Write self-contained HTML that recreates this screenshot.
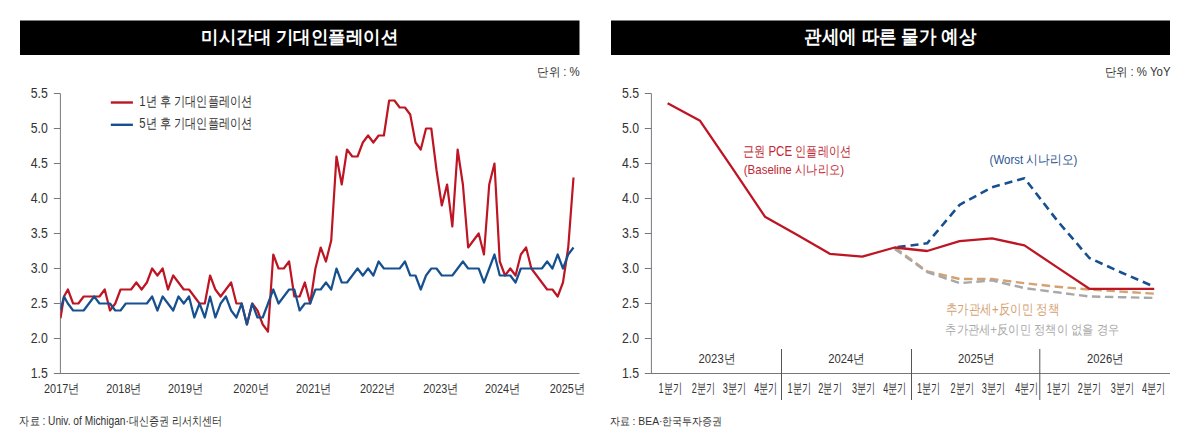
<!DOCTYPE html>
<html><head><meta charset="utf-8"><style>
html,body{margin:0;padding:0;background:#fff;width:1200px;height:443px;overflow:hidden}
svg{display:block}
text{font-family:'Liberation Sans',sans-serif}
</style></head><body>
<svg width="1200" height="443" viewBox="0 0 1200 443">
<rect x="0" y="0" width="1200" height="443" fill="#fff"/>

<rect x="20" y="20.5" width="559.5" height="34.5" fill="#000"/>
<rect x="611" y="20.5" width="559" height="34.5" fill="#000"/>
<text x="201.44" y="43.46" textLength="196.52" lengthAdjust="spacingAndGlyphs" font-size="18.20" font-weight="bold" fill="#fff">미시간대 기대인플레이션</text>
<text x="804.44" y="43.44" textLength="171.52" lengthAdjust="spacingAndGlyphs" font-size="18.95" font-weight="bold" fill="#fff">관세에 따른 물가 예상</text>
<text x="537.20" y="75.94" textLength="42.60" lengthAdjust="spacingAndGlyphs" font-size="12.00" font-weight="normal" fill="#333333">단위 : %</text>
<text x="1104.52" y="76.40" textLength="66.02" lengthAdjust="spacingAndGlyphs" font-size="12.03" font-weight="normal" fill="#333333">단위 : % YoY</text>
<line x1="60.4" y1="93.5" x2="60.4" y2="373.5" stroke="#77777f" stroke-width="1"/>
<line x1="53.8" y1="93.5" x2="60.4" y2="93.5" stroke="#77777f" stroke-width="1"/>
<text x="30.70" y="98.06" textLength="17.10" lengthAdjust="spacingAndGlyphs" font-size="13.91" font-weight="normal" fill="#333333">5.5</text>
<line x1="53.8" y1="128.5" x2="60.4" y2="128.5" stroke="#77777f" stroke-width="1"/>
<text x="30.70" y="133.06" textLength="17.10" lengthAdjust="spacingAndGlyphs" font-size="13.91" font-weight="normal" fill="#333333">5.0</text>
<line x1="53.8" y1="163.5" x2="60.4" y2="163.5" stroke="#77777f" stroke-width="1"/>
<text x="30.70" y="168.06" textLength="17.10" lengthAdjust="spacingAndGlyphs" font-size="13.91" font-weight="normal" fill="#333333">4.5</text>
<line x1="53.8" y1="198.5" x2="60.4" y2="198.5" stroke="#77777f" stroke-width="1"/>
<text x="30.70" y="203.06" textLength="17.10" lengthAdjust="spacingAndGlyphs" font-size="13.91" font-weight="normal" fill="#333333">4.0</text>
<line x1="53.8" y1="233.5" x2="60.4" y2="233.5" stroke="#77777f" stroke-width="1"/>
<text x="30.70" y="238.06" textLength="17.10" lengthAdjust="spacingAndGlyphs" font-size="13.91" font-weight="normal" fill="#333333">3.5</text>
<line x1="53.8" y1="268.5" x2="60.4" y2="268.5" stroke="#77777f" stroke-width="1"/>
<text x="30.70" y="273.06" textLength="17.10" lengthAdjust="spacingAndGlyphs" font-size="13.91" font-weight="normal" fill="#333333">3.0</text>
<line x1="53.8" y1="303.5" x2="60.4" y2="303.5" stroke="#77777f" stroke-width="1"/>
<text x="30.70" y="308.06" textLength="17.10" lengthAdjust="spacingAndGlyphs" font-size="13.91" font-weight="normal" fill="#333333">2.5</text>
<line x1="53.8" y1="338.5" x2="60.4" y2="338.5" stroke="#77777f" stroke-width="1"/>
<text x="30.70" y="343.06" textLength="17.10" lengthAdjust="spacingAndGlyphs" font-size="13.91" font-weight="normal" fill="#333333">2.0</text>
<text x="30.70" y="378.06" textLength="17.10" lengthAdjust="spacingAndGlyphs" font-size="13.91" font-weight="normal" fill="#333333">1.5</text>
<line x1="53.8" y1="373.5" x2="579.5" y2="373.5" stroke="#77777f" stroke-width="1"/>
<line x1="651.4" y1="93.5" x2="651.4" y2="373.5" stroke="#77777f" stroke-width="1"/>
<line x1="644.8" y1="93.5" x2="651.4" y2="93.5" stroke="#77777f" stroke-width="1"/>
<text x="621.90" y="98.06" textLength="17.10" lengthAdjust="spacingAndGlyphs" font-size="13.91" font-weight="normal" fill="#333333">5.5</text>
<line x1="644.8" y1="128.5" x2="651.4" y2="128.5" stroke="#77777f" stroke-width="1"/>
<text x="621.90" y="133.06" textLength="17.10" lengthAdjust="spacingAndGlyphs" font-size="13.91" font-weight="normal" fill="#333333">5.0</text>
<line x1="644.8" y1="163.5" x2="651.4" y2="163.5" stroke="#77777f" stroke-width="1"/>
<text x="621.90" y="168.06" textLength="17.10" lengthAdjust="spacingAndGlyphs" font-size="13.91" font-weight="normal" fill="#333333">4.5</text>
<line x1="644.8" y1="198.5" x2="651.4" y2="198.5" stroke="#77777f" stroke-width="1"/>
<text x="621.90" y="203.06" textLength="17.10" lengthAdjust="spacingAndGlyphs" font-size="13.91" font-weight="normal" fill="#333333">4.0</text>
<line x1="644.8" y1="233.5" x2="651.4" y2="233.5" stroke="#77777f" stroke-width="1"/>
<text x="621.90" y="238.06" textLength="17.10" lengthAdjust="spacingAndGlyphs" font-size="13.91" font-weight="normal" fill="#333333">3.5</text>
<line x1="644.8" y1="268.5" x2="651.4" y2="268.5" stroke="#77777f" stroke-width="1"/>
<text x="621.90" y="273.06" textLength="17.10" lengthAdjust="spacingAndGlyphs" font-size="13.91" font-weight="normal" fill="#333333">3.0</text>
<line x1="644.8" y1="303.5" x2="651.4" y2="303.5" stroke="#77777f" stroke-width="1"/>
<text x="621.90" y="308.06" textLength="17.10" lengthAdjust="spacingAndGlyphs" font-size="13.91" font-weight="normal" fill="#333333">2.5</text>
<line x1="644.8" y1="338.5" x2="651.4" y2="338.5" stroke="#77777f" stroke-width="1"/>
<text x="621.90" y="343.06" textLength="17.10" lengthAdjust="spacingAndGlyphs" font-size="13.91" font-weight="normal" fill="#333333">2.0</text>
<text x="621.90" y="378.06" textLength="17.10" lengthAdjust="spacingAndGlyphs" font-size="13.91" font-weight="normal" fill="#333333">1.5</text>
<line x1="644.8" y1="373.5" x2="1170" y2="373.5" stroke="#77777f" stroke-width="1"/>
<text x="44.04" y="393.38" textLength="35.40" lengthAdjust="spacingAndGlyphs" font-size="12.65" font-weight="normal" fill="#333333">2017년</text>
<text x="106.24" y="393.38" textLength="35.40" lengthAdjust="spacingAndGlyphs" font-size="12.65" font-weight="normal" fill="#333333">2018년</text>
<text x="167.94" y="393.38" textLength="35.40" lengthAdjust="spacingAndGlyphs" font-size="12.65" font-weight="normal" fill="#333333">2019년</text>
<text x="233.34" y="393.38" textLength="35.40" lengthAdjust="spacingAndGlyphs" font-size="12.65" font-weight="normal" fill="#333333">2020년</text>
<text x="296.04" y="393.38" textLength="35.40" lengthAdjust="spacingAndGlyphs" font-size="12.65" font-weight="normal" fill="#333333">2021년</text>
<text x="359.94" y="393.38" textLength="35.40" lengthAdjust="spacingAndGlyphs" font-size="12.65" font-weight="normal" fill="#333333">2022년</text>
<text x="423.14" y="393.38" textLength="35.40" lengthAdjust="spacingAndGlyphs" font-size="12.65" font-weight="normal" fill="#333333">2023년</text>
<text x="484.94" y="393.38" textLength="35.40" lengthAdjust="spacingAndGlyphs" font-size="12.65" font-weight="normal" fill="#333333">2024년</text>
<text x="549.64" y="393.38" textLength="35.40" lengthAdjust="spacingAndGlyphs" font-size="12.65" font-weight="normal" fill="#333333">2025년</text>
<line x1="110.8" y1="102.5" x2="132.9" y2="102.5" stroke="#bd1523" stroke-width="2.4"/>
<line x1="110.8" y1="124.8" x2="132.9" y2="124.8" stroke="#17508f" stroke-width="2.4"/>
<text x="139.28" y="105.98" textLength="113.06" lengthAdjust="spacingAndGlyphs" font-size="14.14" font-weight="normal" fill="#333333">1년 후 기대인플레이션</text>
<text x="139.28" y="128.38" textLength="113.06" lengthAdjust="spacingAndGlyphs" font-size="14.14" font-weight="normal" fill="#333333">5년 후 기대인플레이션</text>
<defs><clipPath id="cl"><rect x="60.4" y="80" width="530" height="300"/></clipPath></defs>
<g clip-path="url(#cl)" fill="none" stroke-linejoin="round">
<polyline points="60.50,318.20 64.00,296.50 67.87,289.50 73.13,303.50 78.40,303.50 83.67,296.50 88.94,296.50 94.20,296.50 99.47,296.50 104.74,289.50 110.00,310.50 115.27,303.50 120.54,289.50 125.80,289.50 131.07,289.50 136.34,282.50 141.61,289.50 146.87,282.50 152.14,268.50 157.41,275.50 162.67,268.50 167.94,289.50 173.21,275.50 178.47,282.50 183.74,289.50 189.01,289.50 194.28,296.50 199.54,303.50 204.81,303.50 210.08,275.50 215.34,289.50 220.61,296.50 225.88,289.50 231.14,282.50 236.41,303.50 241.68,303.50 246.94,324.50 252.21,303.50 257.48,310.50 262.75,324.50 268.01,331.50 273.28,254.50 278.55,268.50 283.81,268.50 289.08,261.50 294.35,296.50 299.62,296.50 304.88,282.50 310.15,303.50 315.42,268.50 320.68,247.50 325.95,261.50 331.22,240.50 336.48,156.50 341.75,184.50 347.02,149.50 352.29,156.50 357.55,156.50 362.82,142.50 368.09,135.50 373.35,142.50 378.62,135.50 383.89,135.50 389.15,100.50 394.42,100.50 399.69,107.50 404.96,107.50 410.22,114.50 415.49,142.50 420.76,149.50 426.02,128.50 431.29,128.50 436.56,170.50 441.82,205.50 447.09,184.50 452.36,226.50 457.63,149.50 462.89,184.50 468.16,247.50 473.43,240.50 478.69,233.50 483.96,254.50 489.23,184.50 494.49,163.50 499.76,261.50 505.03,275.50 510.30,268.50 515.56,275.50 520.83,254.50 526.10,247.50 531.36,268.50 536.63,275.50 541.90,282.50 547.16,289.50 552.43,289.50 557.70,296.50 562.97,282.50 568.23,247.50 573.50,177.50" stroke="#bd1523" stroke-width="2.2"/>
<polyline points="60.50,309.80 64.00,296.50 67.87,303.50 73.13,310.50 78.40,310.50 83.67,310.50 88.94,303.50 94.20,296.50 99.47,303.50 104.74,303.50 110.00,303.50 115.27,310.50 120.54,310.50 125.80,303.50 131.07,303.50 136.34,303.50 141.61,303.50 146.87,303.50 152.14,296.50 157.41,310.50 162.67,296.50 167.94,303.50 173.21,310.50 178.47,296.50 183.74,303.50 189.01,296.50 194.28,317.50 199.54,303.50 204.81,317.50 210.08,296.50 215.34,317.50 220.61,303.50 225.88,296.50 231.14,310.50 236.41,317.50 241.68,303.50 246.94,324.50 252.21,303.50 257.48,317.50 262.75,317.50 268.01,303.50 273.28,289.50 278.55,303.50 283.81,296.50 289.08,289.50 294.35,289.50 299.62,310.50 304.88,303.50 310.15,303.50 315.42,289.50 320.68,289.50 325.95,282.50 331.22,289.50 336.48,268.50 341.75,282.50 347.02,282.50 352.29,275.50 357.55,268.50 362.82,275.50 368.09,268.50 373.35,275.50 378.62,261.50 383.89,268.50 389.15,268.50 394.42,268.50 399.69,268.50 404.96,261.50 410.22,275.50 415.49,275.50 420.76,289.50 426.02,275.50 431.29,268.50 436.56,268.50 441.82,275.50 447.09,275.50 452.36,275.50 457.63,268.50 462.89,261.50 468.16,268.50 473.43,268.50 478.69,268.50 483.96,282.50 489.23,268.50 494.49,254.50 499.76,275.50 505.03,275.50 510.30,275.50 515.56,282.50 520.83,268.50 526.10,268.50 531.36,268.50 536.63,268.50 541.90,268.50 547.16,261.50 552.43,268.50 557.70,254.50 562.97,268.50 568.23,254.50 573.50,247.50" stroke="#17508f" stroke-width="2.2"/>
</g>
<text x="19.46" y="425.18" textLength="202.78" lengthAdjust="spacingAndGlyphs" font-size="12.17" font-weight="normal" fill="#333333">자료 : Univ. of Michigan·대신증권 리서치센터</text>
<text x="609.74" y="425.04" textLength="112.74" lengthAdjust="spacingAndGlyphs" font-size="11.38" font-weight="normal" fill="#333333">자료 : BEA·한국투자증권</text>
<line x1="781.5" y1="349" x2="781.5" y2="400" stroke="#555" stroke-width="1"/>
<line x1="911.5" y1="349" x2="911.5" y2="400" stroke="#555" stroke-width="1"/>
<line x1="1039.8" y1="349" x2="1039.8" y2="400" stroke="#555" stroke-width="1"/>
<text x="698.62" y="362.50" textLength="36.60" lengthAdjust="spacingAndGlyphs" font-size="12.65" font-weight="normal" fill="#333333">2023년</text>
<text x="828.22" y="362.50" textLength="36.60" lengthAdjust="spacingAndGlyphs" font-size="12.65" font-weight="normal" fill="#333333">2024년</text>
<text x="957.92" y="362.50" textLength="36.60" lengthAdjust="spacingAndGlyphs" font-size="12.65" font-weight="normal" fill="#333333">2025년</text>
<text x="1087.12" y="362.50" textLength="36.60" lengthAdjust="spacingAndGlyphs" font-size="12.65" font-weight="normal" fill="#333333">2026년</text>
<text x="658.54" y="393.46" textLength="23.32" lengthAdjust="spacingAndGlyphs" font-size="13.88" font-weight="normal" fill="#333333">1분기</text>
<text x="691.64" y="393.46" textLength="23.32" lengthAdjust="spacingAndGlyphs" font-size="13.88" font-weight="normal" fill="#333333">2분기</text>
<text x="722.84" y="393.46" textLength="23.32" lengthAdjust="spacingAndGlyphs" font-size="13.88" font-weight="normal" fill="#333333">3분기</text>
<text x="754.14" y="393.46" textLength="23.32" lengthAdjust="spacingAndGlyphs" font-size="13.88" font-weight="normal" fill="#333333">4분기</text>
<text x="787.54" y="393.46" textLength="23.32" lengthAdjust="spacingAndGlyphs" font-size="13.88" font-weight="normal" fill="#333333">1분기</text>
<text x="818.34" y="393.46" textLength="23.32" lengthAdjust="spacingAndGlyphs" font-size="13.88" font-weight="normal" fill="#333333">2분기</text>
<text x="851.94" y="393.46" textLength="23.32" lengthAdjust="spacingAndGlyphs" font-size="13.88" font-weight="normal" fill="#333333">3분기</text>
<text x="883.24" y="393.46" textLength="23.32" lengthAdjust="spacingAndGlyphs" font-size="13.88" font-weight="normal" fill="#333333">4분기</text>
<text x="916.94" y="393.46" textLength="23.32" lengthAdjust="spacingAndGlyphs" font-size="13.88" font-weight="normal" fill="#333333">1분기</text>
<text x="950.54" y="393.46" textLength="23.32" lengthAdjust="spacingAndGlyphs" font-size="13.88" font-weight="normal" fill="#333333">2분기</text>
<text x="981.64" y="393.46" textLength="23.32" lengthAdjust="spacingAndGlyphs" font-size="13.88" font-weight="normal" fill="#333333">3분기</text>
<text x="1015.14" y="393.46" textLength="23.32" lengthAdjust="spacingAndGlyphs" font-size="13.88" font-weight="normal" fill="#333333">4분기</text>
<text x="1046.64" y="393.46" textLength="23.32" lengthAdjust="spacingAndGlyphs" font-size="13.88" font-weight="normal" fill="#333333">1분기</text>
<text x="1077.64" y="393.46" textLength="23.32" lengthAdjust="spacingAndGlyphs" font-size="13.88" font-weight="normal" fill="#333333">2분기</text>
<text x="1110.84" y="393.46" textLength="23.32" lengthAdjust="spacingAndGlyphs" font-size="13.88" font-weight="normal" fill="#333333">3분기</text>
<text x="1142.04" y="393.46" textLength="23.32" lengthAdjust="spacingAndGlyphs" font-size="13.88" font-weight="normal" fill="#333333">4분기</text>
<g fill="none" stroke-linejoin="round">
<polyline points="894.70,247.50 927.14,271.30 959.58,279.00 992.02,279.00 1024.46,283.20 1056.90,286.70 1089.34,289.50 1121.78,291.60 1154.22,293.70" stroke="#d4a272" stroke-width="2.4" stroke-dasharray="8.5,4.5"/>
<polyline points="894.70,248.90 927.14,272.00 959.58,283.20 992.02,280.40 1024.46,288.10 1056.90,292.30 1089.34,296.50 1121.78,297.20 1154.22,297.90" stroke="#a8a8a8" stroke-width="2.4" stroke-dasharray="8.5,4.5"/>
<polyline points="894.70,247.50 927.14,243.30 959.58,204.80 992.02,187.30 1024.46,178.20 1056.90,220.20 1089.34,258.00 1121.78,272.70 1154.22,286.70" stroke="#17508f" stroke-width="2.6" stroke-dasharray="8,5" stroke-dashoffset="-3"/>
<polyline points="667.62,103.30 700.06,120.80 732.50,168.40 764.94,216.70 797.38,234.90 829.82,253.80 862.26,256.60 894.70,247.50 927.14,251.00 959.58,241.20 992.02,238.40 1024.46,245.40 1056.90,267.10 1089.34,288.80 1121.78,288.80 1154.22,288.80" stroke="#bd1523" stroke-width="2.3"/>
</g>
<text x="742.98" y="156.24" textLength="107.98" lengthAdjust="spacingAndGlyphs" font-size="14.45" font-weight="normal" fill="#c02a36">근원 PCE 인플레이션</text>
<text x="743.80" y="174.32" textLength="100.22" lengthAdjust="spacingAndGlyphs" font-size="13.19" font-weight="normal" fill="#c02a36">(Baseline 시나리오)</text>
<text x="989.62" y="163.84" textLength="87.60" lengthAdjust="spacingAndGlyphs" font-size="12.68" font-weight="normal" fill="#2c5690">(Worst 시나리오)</text>
<text x="945.96" y="314.18" textLength="113.32" lengthAdjust="spacingAndGlyphs" font-size="13.74" font-weight="normal" fill="#d4a272">추가관세+反이민 정책</text>
<text x="945.24" y="334.42" textLength="174.18" lengthAdjust="spacingAndGlyphs" font-size="13.38" font-weight="normal" fill="#a8a8a8">추가관세+反이민 정책이 없을 경우</text>
</svg>
</body></html>
